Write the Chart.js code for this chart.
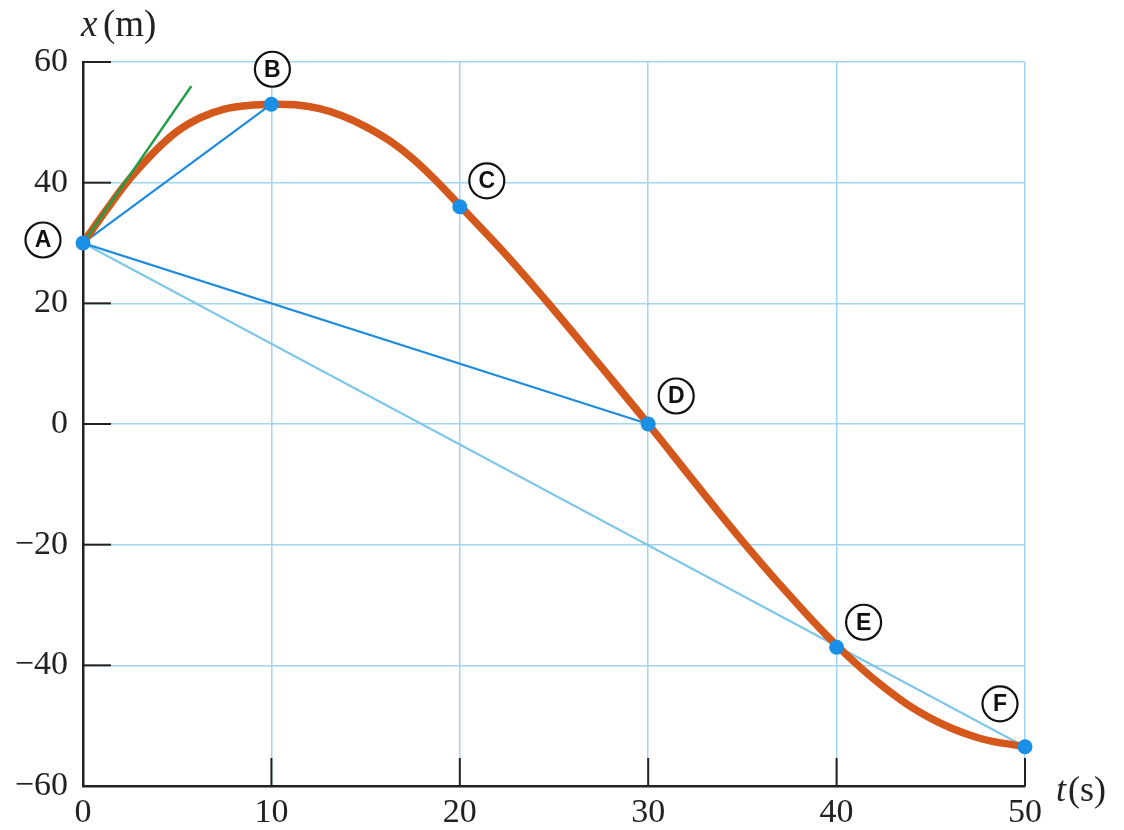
<!DOCTYPE html>
<html>
<head>
<meta charset="utf-8">
<script src="https://cdn.jsdelivr.net/npm/chart.js@4.4.1/dist/chart.umd.min.js"></script>
<style>
  html, body { margin: 0; padding: 0; background: #fff; }
  #wrap { width: 1124px; height: 830px; }
</style>
</head>
<body>
<div id="wrap"><canvas id="posChart" width="1124" height="830"></canvas></div>
<script>
// curve x(t)
var curveTimes = [0, 1.25, 2.5, 3.75, 5, 6.25, 7.5, 8.75, 10, 11.25, 12.5, 13.75, 15, 16.25, 17.5, 18.75, 20,
                  22.5, 25, 27.5, 30, 32.5, 35, 37.5, 40, 42.5, 45, 47.5, 50];
var curvePositions = [30, 35.5, 40.7, 45, 48.5, 50.8, 52.2, 52.8, 53, 52.9, 52.3, 51.1, 49.3, 47, 44, 40.3, 36.2,
                      27.9, 18.9, 9.5, 0, -9.8, -19.4, -28.4, -36.7, -43.6, -48.8, -52, -53.5];

// marked points
var pointLabels = ['A', 'B', 'C', 'D', 'E', 'F'];
var pointTimes = [0, 10, 20, 30, 40, 50];
var pointPositions = [30, 53, 36, 0, -37, -53.5];

// tangent at A
var tangentTimes = [0, 5.75];
var tangentPositions = [30, 56];

var xTicks = [0, 10, 20, 30, 40, 50];
var yTicks = [-60, -40, -20, 0, 20, 40, 60];

function pairs(ts, xs) {
    return ts.map(function(t, i) { return { x: t, y: xs[i] }; });
}
function chord(i, j) {
    return [{ x: pointTimes[i], y: pointPositions[i] }, { x: pointTimes[j], y: pointPositions[j] }];
}

var serif = '"Liberation Serif", "DejaVu Serif", serif';
var gridBlue = '#a3d4f0';

// short black ticks drawn inward from the axes
var innerTicks = {
    id: 'innerTicks',
    beforeDatasetsDraw: function(chart) {
        var c = chart.ctx, a = chart.chartArea;
        var xs = chart.scales.x, ys = chart.scales.y;
        c.save();
        c.strokeStyle = '#222';
        c.lineWidth = 2;
        yTicks.forEach(function(v) {
            var py = ys.getPixelForValue(v);
            c.beginPath(); c.moveTo(a.left, py); c.lineTo(a.left + 28, py); c.stroke();
        });
        xTicks.forEach(function(v) {
            var px = xs.getPixelForValue(v);
            c.beginPath(); c.moveTo(px, a.bottom); c.lineTo(px, a.bottom - 28); c.stroke();
        });
        c.restore();
    }
};

// circled letters beside the points, plus axis titles
var labelOffsets = [[-40, -3], [1, -35], [27, -26], [28, -28], [27, -25], [-25, -43]];
var annotations = {
    id: 'annotations',
    afterDatasetsDraw: function(chart) {
        var c = chart.ctx;
        var xs = chart.scales.x, ys = chart.scales.y;
        c.save();
        pointLabels.forEach(function(lbl, i) {
            var px = xs.getPixelForValue(pointTimes[i]) + labelOffsets[i][0];
            var py = ys.getPixelForValue(pointPositions[i]) + labelOffsets[i][1];
            c.beginPath();
            c.arc(px, py, 17.5, 0, Math.PI * 2);
            c.fillStyle = '#fff';
            c.fill();
            c.lineWidth = 2.2;
            c.strokeStyle = '#111';
            c.stroke();
            c.fillStyle = '#111';
            c.font = 'bold 23px "Liberation Sans", Arial, sans-serif';
            c.textAlign = 'center';
            c.textBaseline = 'middle';
            c.fillText(lbl, px, py + 1);
        });

        c.fillStyle = '#222';
        c.textAlign = 'left';
        c.textBaseline = 'alphabetic';
        c.font = 'italic 37px ' + serif;
        c.fillText('x', 81, 36);
        c.font = '37px ' + serif;
        c.fillText('(m)', 103, 36);

        c.font = 'italic 36px ' + serif;
        c.fillText('t', 1056, 801);
        c.font = '36px ' + serif;
        c.fillText('(s)', 1068, 801);
        c.restore();
    }
};

var lineDefaults = { showLine: true, pointRadius: 0, fill: false };

new Chart(document.getElementById('posChart'), {
    type: 'scatter',
    data: {
        datasets: [
            { label: 'points', data: pairs(pointTimes, pointPositions), pointRadius: 7.5,
              pointBackgroundColor: '#1a8fe6', pointBorderWidth: 0, showLine: false, clip: false },
            Object.assign({ label: 'tangent', data: pairs(tangentTimes, tangentPositions),
              borderColor: '#1e9e48', borderWidth: 2.5 }, lineDefaults),
            Object.assign({ label: 'x(t)', data: pairs(curveTimes, curvePositions),
              borderColor: '#d4581c', borderWidth: 7.5, tension: 0.4 }, lineDefaults),
            Object.assign({ label: 'AB', data: chord(0, 1), borderColor: '#1f8bdc', borderWidth: 2.2 }, lineDefaults),
            Object.assign({ label: 'AD', data: chord(0, 3), borderColor: '#1f8bdc', borderWidth: 2.2 }, lineDefaults),
            Object.assign({ label: 'AF', data: chord(0, 5), borderColor: '#7fc7ea', borderWidth: 2.2 }, lineDefaults)
        ]
    },
    options: {
        responsive: false,
        animation: false,
        layout: { padding: { top: 62, right: 99, left: 0, bottom: 0 } },
        plugins: { legend: { display: false }, tooltip: { enabled: false } },
        scales: {
            x: {
                type: 'linear', min: 0, max: 50,
                afterFit: function(s) { s.height = 44; },
                afterBuildTicks: function(s) { s.ticks = xTicks.map(function(v) { return { value: v }; }); },
                grid: { color: gridBlue, lineWidth: 1.5, drawTicks: false },
                border: { color: '#222', width: 2.5 },
                ticks: { color: '#222', padding: 7, font: { family: serif, size: 34 } }
            },
            y: {
                type: 'linear', min: -60, max: 60,
                afterFit: function(s) { s.width = 83; },
                afterBuildTicks: function(s) { s.ticks = yTicks.map(function(v) { return { value: v }; }); },
                grid: { color: gridBlue, lineWidth: 1.5, drawTicks: false },
                border: { color: '#222', width: 2.5 },
                ticks: { color: '#222', padding: 15, font: { family: serif, size: 34 },
                    callback: function(v) { return String(v).replace('-', '\u2212'); } }
            }
        }
    },
    plugins: [innerTicks, annotations]
});
</script>
</body>
</html>
